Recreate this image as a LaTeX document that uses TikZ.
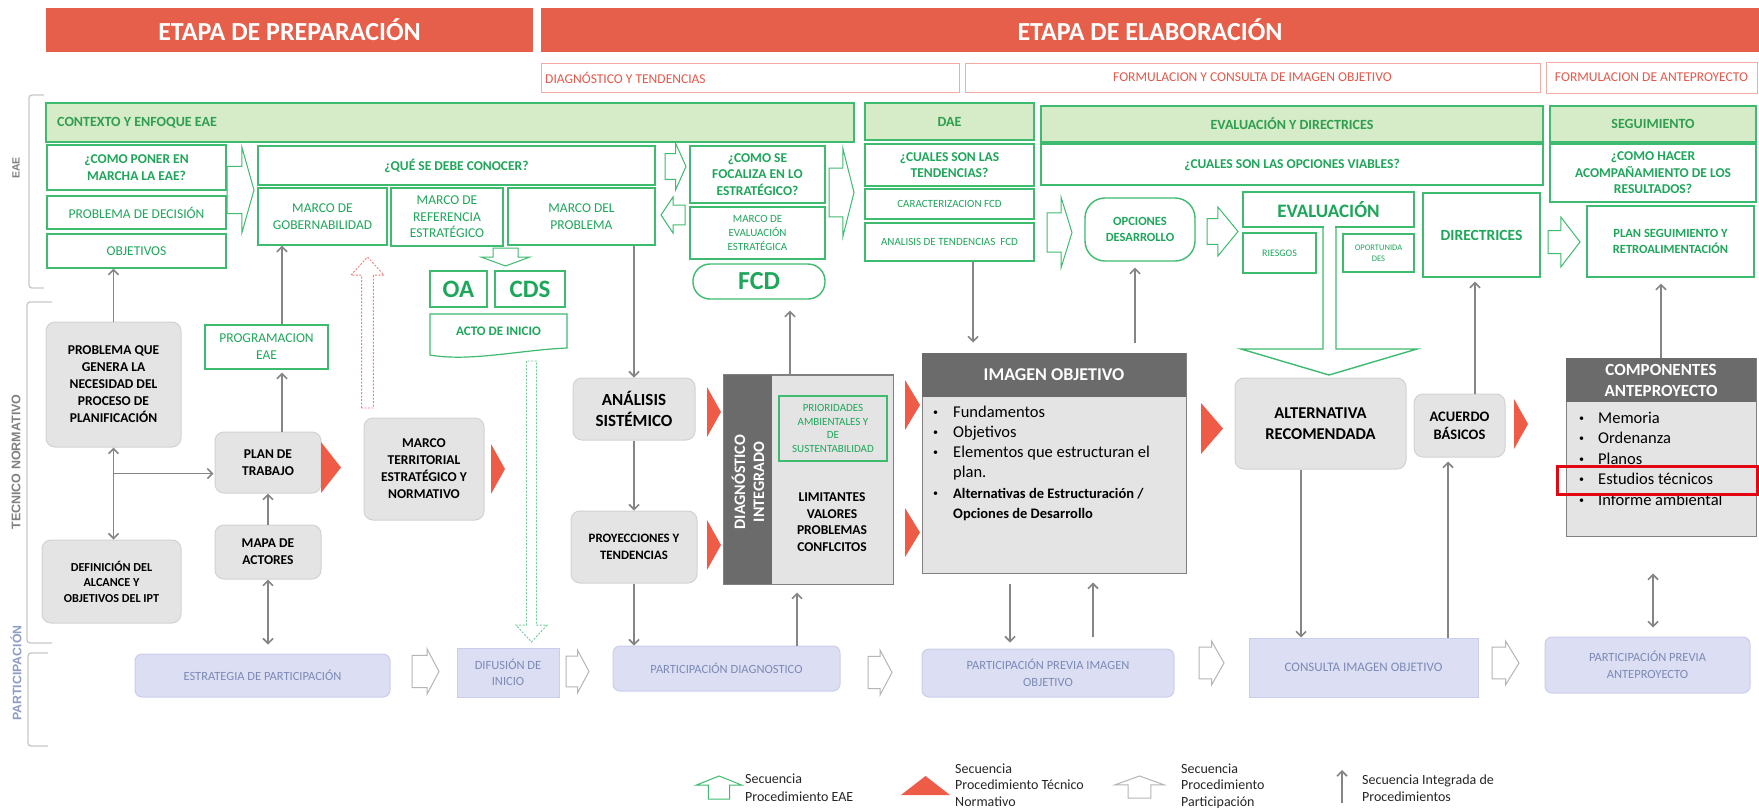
\documentclass[tikz,border=0pt]{standalone}
\usepackage{fontspec}
\setmainfont{Carlito}
\newfontfamily\sidefont{Liberation Sans}
\usetikzlibrary{arrows.meta}
\definecolor{hdrred}{HTML}{E65F4B}
\definecolor{subborder}{HTML}{F2ABA3}
\definecolor{subtext}{HTML}{E5584A}
\definecolor{egreen}{HTML}{1EA65A}
\definecolor{eborder}{HTML}{3DBB6E}
\definecolor{bandfill}{HTML}{D6EBC8}
\definecolor{bandtext}{HTML}{2E9E4F}
\definecolor{grayfill}{HTML}{E4E4E4}
\definecolor{grayborder}{HTML}{D2D2D2}
\definecolor{darkhdr}{HTML}{6B6B6B}
\definecolor{boxline}{HTML}{808080}
\definecolor{conngray}{HTML}{858585}
\definecolor{trired}{HTML}{EE5B47}
\definecolor{partfill}{HTML}{DCDEF3}
\definecolor{partborder}{HTML}{CBCEEA}
\definecolor{parttext}{HTML}{7B8AB5}
\definecolor{sidegray}{HTML}{808080}
\definecolor{sideblue}{HTML}{8E9DC6}
\definecolor{pgrayline}{HTML}{B5B5B5}
\definecolor{hlred}{HTML}{E30613}
\definecolor{dashgreen}{HTML}{6FCB94}
\definecolor{dashred}{HTML}{F08080}
\definecolor{legtext}{HTML}{262626}
\definecolor{brkgray}{HTML}{C8C8C8}

\newcommand\mybox[7]{\node[#6, minimum width={#4-#2}, minimum height={#5-#3}] (#1) at ({(#2+#4)/2},{(#3+#5)/2}) {#7};}
\newcommand\hArrR[7][]{%
 \pgfmathsetmacro\hwA{#2+#7*(#4-#2)}\pgfmathsetmacro\hwM{(#3+#5)/2}\pgfmathsetmacro\hwS{#6*(#5-#3)/2}%
 \draw[#1] (#2,\hwM-\hwS) -- (\hwA,\hwM-\hwS) -- (\hwA,#3) -- (#4,\hwM) -- (\hwA,#5) -- (\hwA,\hwM+\hwS) -- (#2,\hwM+\hwS) -- cycle;}
\newcommand\hArrL[7][]{%
 \pgfmathsetmacro\hwA{#4-#7*(#4-#2)}\pgfmathsetmacro\hwM{(#3+#5)/2}\pgfmathsetmacro\hwS{#6*(#5-#3)/2}%
 \draw[#1] (#4,\hwM-\hwS) -- (\hwA,\hwM-\hwS) -- (\hwA,#3) -- (#2,\hwM) -- (\hwA,#5) -- (\hwA,\hwM+\hwS) -- (#4,\hwM+\hwS) -- cycle;}
\newcommand\hArrD[7][]{%
 \pgfmathsetmacro\hwA{#3+#7*(#5-#3)}\pgfmathsetmacro\hwM{(#2+#4)/2}\pgfmathsetmacro\hwS{#6*(#4-#2)/2}%
 \draw[#1] (\hwM-\hwS,#3) -- (\hwM-\hwS,\hwA) -- (#2,\hwA) -- (\hwM,#5) -- (#4,\hwA) -- (\hwM+\hwS,\hwA) -- (\hwM+\hwS,#3) -- cycle;}
\newcommand\hArrU[7][]{%
 \pgfmathsetmacro\hwA{#5-#7*(#5-#3)}\pgfmathsetmacro\hwM{(#2+#4)/2}\pgfmathsetmacro\hwS{#6*(#4-#2)/2}%
 \draw[#1] (\hwM-\hwS,#5) -- (\hwM-\hwS,\hwA) -- (#2,\hwA) -- (\hwM,#3) -- (#4,\hwA) -- (\hwM+\hwS,\hwA) -- (\hwM+\hwS,#5) -- cycle;}
\newcommand\redTri[4]{\fill[trired] (#1,#2) -- (#3,{(#2+#4)/2}) -- (#1,#4) -- cycle;}
\newcommand\smbul{\raisebox{0.12em}{\fontsize{10}{10}\selectfont\textbullet}}

\tikzset{
 fb/.style n args={2}{font=\fontsize{#1}{#2}\selectfont\bfseries},
 fr/.style n args={2}{font=\fontsize{#1}{#2}\selectfont},
 hdr/.style={fill=hdrred, text=white, fb={26}{30}, inner sep=0pt},
 sub/.style={draw=subborder, line width=1pt, text=subtext, fr={13.5}{16}, inner sep=0pt},
 gbox/.style={draw=eborder, line width=1.4pt, fill=white, text=egreen, align=center, inner sep=0pt, fb={13.5}{16.5}},
 gboxn/.style={gbox, fr={13.5}{16.5}},
 band/.style={draw=eborder, line width=1.4pt, fill=bandfill, text=bandtext, align=center, inner sep=0pt, fb={14}{17}},
 graybox/.style={draw=grayborder, line width=1pt, fill=grayfill, rounded corners=9pt, text=black, align=center, inner sep=0pt, fb={13.5}{17}},
 partbox/.style={draw=partborder, line width=1pt, fill=partfill, rounded corners=7pt, text=parttext, align=center, inner sep=0pt, fr={12.5}{16.5}},
 darkhdr/.style={fill=darkhdr, text=white, align=center, inner sep=0pt},
 conn/.style={draw=conngray, line width=1.6pt, -{Straight Barb[length=5pt,width=10pt]}},
 conn2/.style={conn, {Straight Barb[length=5pt,width=10pt]}-{Straight Barb[length=5pt,width=10pt]}},
 harrow/.style={draw=eborder, line width=1pt, fill=white},
 pharrow/.style={draw=pgrayline, line width=1pt, fill=white},
 brk/.style={draw=brkgray, line width=1.3pt, rounded corners=3pt},
}

\begin{document}
\begin{tikzpicture}[x=1pt,y=-1pt]
\useasboundingbox (0,0) rectangle (1759,807);
\fill[white] (0,0) rectangle (1759,807);

% ---------- headers
\mybox{h1}{46}{8}{533}{52}{hdr}{ETAPA DE PREPARACIÓN}
\mybox{h2}{541}{8}{1759}{52}{hdr}{ETAPA DE ELABORACIÓN}
\mybox{s1}{541}{63}{959}{92}{sub}{}
\node[anchor=west, text=subtext, fr={13.5}{16}, inner sep=0pt] (s1t) at (545,77.5) {DIAGNÓSTICO Y TENDENCIAS};
\mybox{s2}{965}{63}{1540}{92}{sub}{FORMULACION Y CONSULTA DE IMAGEN OBJETIVO}
\mybox{s3}{1546}{62}{1757}{93}{sub}{FORMULACION DE ANTEPROYECTO}

% ---------- side brackets and labels
\draw[brk] (44,95) -- (29,95) -- (29,288) -- (44,288);
\draw[brk] (52,302) -- (27,302) -- (27,643) -- (52,643);
\draw[brk] (48,653) -- (28,653) -- (28,746) -- (48,746);
\node[rotate=90, text=sidegray, font=\sidefont\fontsize{10.5}{12}\selectfont\bfseries] (leae) at (16,168) {EAE};
\node[rotate=90, text=sidegray, font=\sidefont\fontsize{12.5}{15}\selectfont\bfseries] (ltn) at (16,462) {TECNICO NORMATIVO};
\node[rotate=90, text=sideblue, font=\sidefont\fontsize{12.3}{14}\selectfont\bfseries] (lpar) at (16,673) {PARTICIPACIÓN};

% ---------- EAE band, row 1
\mybox{ctx}{46}{103}{854}{142}{band}{}
\node[anchor=west, text=bandtext, fb={14}{17}, inner sep=0pt] (ctxt) at (57,122.5) {CONTEXTO Y ENFOQUE EAE};
\mybox{dae}{865}{103}{1034}{140}{band}{DAE}
\mybox{evd}{1041}{106}{1543}{142}{band}{EVALUACIÓN Y DIRECTRICES}
\mybox{seg}{1550}{106}{1756}{142}{band}{SEGUIMIENTO}

% ---------- EAE band, left part
\mybox{como}{47}{145}{226}{190}{gbox}{¿COMO PONER EN\\MARCHA LA EAE?}
\mybox{pdec}{47}{196}{226}{229}{gboxn}{PROBLEMA DE DECISIÓN}
\mybox{objetivos}{47}{234}{226}{268}{gboxn}{OBJETIVOS}
\hArrR[harrow]{227}{147}{254}{233}{0.55}{0.55}
\mybox{que}{258}{146}{655}{185}{gbox}{¿QUÉ SE DEBE CONOCER?}
\mybox{gob}{258}{188}{387}{245}{gboxn}{MARCO DE\\GOBERNABILIDAD}
\mybox{ref}{391}{188}{503}{246}{gboxn}{MARCO DE\\REFERENCIA\\ESTRATÉGICO}
\mybox{problema}{508}{188}{655}{245}{gboxn}{MARCO DEL\\PROBLEMA}
\hArrR[harrow]{665}{143}{686}{190}{0.55}{0.5}
\hArrL[harrow]{661}{197}{685}{233}{0.55}{0.5}
\mybox{foc}{690}{146}{825}{203}{gbox}{¿COMO SE\\FOCALIZA EN LO\\ESTRATÉGICO?}
\mybox{mee}{690}{207}{825}{259}{gboxn, fr={11}{14}}{MARCO DE\\EVALUACIÓN\\ESTRATÉGICA}
\mybox{fcd}{693}{264}{825}{299}{gbox, rounded corners=17pt, fb={26}{28}}{FCD}
\hArrR[harrow]{829}{148}{854}{237}{0.55}{0.55}
\hArrD[harrow]{481}{248}{530}{266}{0.51}{0.5}
\mybox{oa}{430}{271}{487}{307}{gbox, fb={25}{28}}{OA}
\mybox{cds}{495}{271}{565}{307}{gbox, fb={25}{28}}{CDS}
\node[text=egreen, fb={13}{16}, inner sep=0pt] (acto) at (498.5,331) {ACTO DE INICIO};
\draw[eborder, line width=1.2pt] (430,355) -- (430,314) -- (567,314) -- (567,348) .. controls (520,350) and (470,362) .. (430,355) -- cycle;
\hArrD[draw=dashgreen, line width=0.9pt, dash pattern=on 2pt off 1.5pt, fill=white]{516}{361}{547}{642}{0.32}{0.94}
\hArrU[draw=dashred, line width=0.9pt, dash pattern=on 2pt off 1.5pt, fill=white]{351}{257}{384}{408}{0.36}{0.88}

% ---------- EAE band, right part
\mybox{cten}{865}{144}{1034}{186}{gbox}{¿CUALES SON LAS\\TENDENCIAS?}
\mybox{carfcd}{865}{189}{1034}{219}{gboxn, fr={11}{13}}{CARACTERIZACION FCD}
\mybox{atend}{865}{223}{1034}{261}{gboxn, fr={11}{13}}{ANALISIS DE TENDENCIAS\ \ FCD}
\mybox{copc}{1041}{144}{1543}{185}{gbox}{¿CUALES SON LAS OPCIONES VIABLES?}
\mybox{chac}{1550}{144}{1756}{202}{gbox}{¿COMO HACER\\ACOMPAÑAMIENTO DE LOS\\RESULTADOS?}
\hArrR[harrow]{1047}{197}{1072}{268}{0.55}{0.56}
\mybox{opc}{1085}{198}{1195}{261}{gbox, rounded corners=20pt, fb={12.5}{16}}{OPCIONES\\DESARROLLO}
\hArrR[harrow]{1207}{207}{1238}{256}{0.53}{0.35}
\mybox{eval}{1243}{192}{1414}{227}{gbox, fb={19}{22}}{EVALUACIÓN}
\mybox{ries}{1243}{233}{1316}{273}{gboxn, fr={10}{12}}{RIESGOS}
\mybox{opor}{1343}{234}{1414}{272}{gboxn, fr={8.5}{11}}{OPORTUNIDA\\DES}
\mybox{dir}{1423}{193}{1540}{277}{gbox, fb={15.5}{18}}{DIRECTRICES}
\hArrR[harrow]{1548}{217}{1580}{267}{0.46}{0.4}
\mybox{pseg}{1587}{206}{1754}{277}{gbox, fb={12.5}{16.5}}{PLAN SEGUIMIENTO Y\\RETROALIMENTACIÓN}
% big arrow out of EVALUACION
\fill[white] (1324,225) rectangle (1335,229.5);
\draw[eborder, line width=1.4pt] (1323,227) -- (1323,349) -- (1241,349) -- (1329,375) -- (1417,349) -- (1336,349) -- (1336,227);

% ---------- tecnico normativo band
\mybox{prob}{46}{322}{181}{447}{graybox}{PROBLEMA QUE\\GENERA LA\\NECESIDAD DEL\\PROCESO DE\\PLANIFICACIÓN}
\mybox{defin}{42}{540}{181}{623}{graybox, fb={12.2}{15.5}}{DEFINICIÓN DEL\\ALCANCE Y\\OBJETIVOS DEL IPT}
\mybox{prog}{205}{325}{328}{369}{gboxn, fr={13.5}{17}}{PROGRAMACION\\EAE}
\mybox{plan}{215}{432}{321}{493}{graybox}{PLAN DE\\TRABAJO}
\mybox{mapa}{215}{525}{321}{579}{graybox}{MAPA DE\\ACTORES}
\redTri{321}{442}{341}{493}
\mybox{mter}{364}{418}{484}{520}{graybox}{MARCO\\TERRITORIAL\\ESTRATÉGICO Y\\NORMATIVO}
\redTri{491}{444}{505}{494}
\mybox{anal}{573}{378}{695}{440}{graybox, fb={17}{20.5}}{ANÁLISIS\\SISTÉMICO}
\mybox{proy}{571}{511}{697}{583}{graybox, fb={12.8}{16.5}}{PROYECCIONES Y\\TENDENCIAS}
\redTri{707}{387}{721}{437}
\redTri{707}{520}{721}{570}
% diagnostico integrado
\mybox{diag}{724}{375}{893}{584}{draw=boxline, line width=1pt, fill=grayfill}{}
\fill[darkhdr] (724,375) rectangle (772,584);
\draw[boxline, line width=1pt] (diag.north west) rectangle (diag.south east);
\node[rotate=90, text=white, fb={16}{19}, align=center, inner sep=0pt] (diagt) at (748,482) {DIAGNÓSTICO\\INTEGRADO};
\mybox{prio}{779}{396}{887}{461}{draw=eborder, line width=1.2pt, text=egreen, align=center, inner sep=0pt, fr={11}{13.7}}{PRIORIDADES\\AMBIENTALES Y\\DE\\SUSTENTABILIDAD}
\node[align=center, fb={13.5}{16.7}, inner sep=0pt] (lim) at (832,522) {LIMITANTES\\VALORES\\PROBLEMAS\\CONFLCITOS};
\redTri{905}{380}{920}{430}
\redTri{905}{508}{920}{557}
% imagen objetivo
\mybox{img}{922}{353}{1186}{573}{draw=boxline, line width=1pt, fill=grayfill}{}
\mybox{imgh}{922}{353}{1186}{397}{darkhdr, fb={18}{21}}{IMAGEN OBJETIVO}
\node[anchor=base west, inner sep=0pt, fr={16.5}{20.3}] (imgl) at (933,417) {\begin{tabular}[t]{@{}p{20pt}@{}l@{}}
\smbul & Fundamentos\\
\smbul & Objetivos\\
\smbul & Elementos que estructuran el\\
 & plan.\\
\smbul & \fontsize{14.5}{18}\selectfont\bfseries Alternativas de Estructuración /\\
 & \fontsize{14.5}{18}\selectfont\bfseries Opciones de Desarrollo
\end{tabular}};
\redTri{1201}{403}{1223}{454}
\mybox{alt}{1235}{378}{1406}{469}{graybox, fb={16.5}{20.5}}{ALTERNATIVA\\RECOMENDADA}
\mybox{acu}{1414}{394}{1505}{457}{graybox, fb={14.5}{18}}{ACUERDO\\BÁSICOS}
\redTri{1514}{399}{1528}{449}
% componentes
\mybox{comp}{1566}{358}{1756}{536}{draw=boxline, line width=1pt, fill=grayfill}{}
\mybox{comph}{1566}{358}{1756}{402}{darkhdr, fb={17}{21}}{COMPONENTES\\ANTEPROYECTO}
\node[anchor=base west, inner sep=0pt, fr={16.5}{20.6}] (compl) at (1579,423) {\begin{tabular}[t]{@{}p{19pt}@{}l@{}}
\smbul & Memoria\\
\smbul & Ordenanza\\
\smbul & Planos\\
\smbul & Estudios técnicos\\
\smbul & Informe ambiental
\end{tabular}};
\mybox{hl}{1557}{466}{1757}{494}{draw=hlred, line width=3pt}{}

% ---------- participacion band
\mybox{estr}{135}{654}{390}{697}{partbox}{ESTRATEGIA DE PARTICIPACIÓN}
\hArrR[pharrow]{412}{649}{439}{694}{0.72}{0.56}
\mybox{dif}{457}{648}{559}{697}{partbox, sharp corners}{DIFUSIÓN DE\\INICIO}
\hArrR[pharrow]{566}{650}{589}{693}{0.72}{0.5}
\mybox{pdiag}{613}{646}{840}{691}{partbox}{PARTICIPACIÓN DIAGNOSTICO}
\hArrR[pharrow]{868}{650}{892}{695}{0.72}{0.5}
\mybox{pimg}{922}{649}{1174}{697}{partbox}{PARTICIPACIÓN PREVIA IMAGEN\\OBJETIVO}
\hArrR[pharrow]{1199}{641}{1224}{685}{0.72}{0.5}
\mybox{cons}{1249}{638}{1478}{697}{partbox, sharp corners, fr={13}{16}}{CONSULTA IMAGEN OBJETIVO}
\hArrR[pharrow]{1492}{641}{1519}{685}{0.72}{0.5}
\mybox{pante}{1545}{637}{1750}{693}{partbox}{PARTICIPACIÓN PREVIA\\ANTEPROYECTO}

% ---------- connectors
\draw[conn] (prob.north) -- (prob.north |- objetivos.south);
\draw[conn2] (prob.south) -- (prob.south |- defin.north);
\coordinate (plw) at ([yshift=-11pt]plan.west);
\draw[conn, shorten >=1pt] (prob.south |- plw) -- (plw);
\draw[conn] (mapa.north) -- (plan.south);
\coordinate (pn) at ([xshift=14pt]plan.north);
\draw[conn, shorten >=3pt] (pn) -- (pn |- prog.south);
\draw[conn] (pn |- prog.north) -- (pn |- gob.south);
\draw[conn2, shorten >=9pt] (mapa.south) -- (mapa.south |- estr.north);
\draw[conn] (anal.north |- problema.south) -- (anal.north);
\draw[conn] (anal.south) -- (proy.north);
\draw[conn] (proy.south) -- (proy.south |- pdiag.north);
\coordinate (d1) at ([xshift=-11.5pt]diag.south);
\draw[conn, shorten >=8pt] (d1 |- pdiag.north) -- (d1);
\coordinate (d2) at ([xshift=-18.5pt]diag.north);
\draw[conn, shorten >=11pt] (d2) -- (d2 |- fcd.south);
\coordinate (a1) at ([xshift=23.5pt]atend.south);
\draw[conn, shorten >=10pt] (a1) -- (a1 |- img.north);
\coordinate (o1) at ([xshift=-5pt]opc.south);
\draw[conn, shorten <=10pt, shorten >=6pt] (o1 |- img.north) -- (o1);
\coordinate (i1) at ([xshift=-44pt]img.south);
\draw[conn, shorten <=10pt, shorten >=6pt] (i1) -- (i1 |- pimg.north);
\coordinate (i2) at ([xshift=39pt]img.south);
\draw[conn, shorten <=12pt, shorten >=9pt] (i2 |- pimg.north) -- (i2);
\coordinate (al) at ([xshift=-19.5pt]alt.south);
\draw[conn] (al) -- (al |- cons.north);
\coordinate (ac) at ([xshift=-11.5pt]acu.south);
\draw[conn, shorten >=4pt] (ac |- cons.north) -- (ac);
\coordinate (ac2) at ([xshift=15.5pt]acu.north);
\draw[conn, shorten >=4pt] (ac2) -- (ac2 |- dir.south);
\draw[conn, shorten >=6pt] (comp.north) -- (comp.north |- pseg.south);
\coordinate (cp) at ([xshift=-8pt]comp.south);
\draw[conn2, shorten <=37pt, shorten >=9pt] (cp) -- (cp |- pante.north);

% ---------- legend
\hArrU[harrow]{696}{776}{742}{799}{0.46}{0.6}
\node[anchor=base west, inner sep=0pt, text=legtext, fr={14}{18.5}] (lg1) at (745,783) {\begin{tabular}[t]{@{}l@{}}Secuencia\\Procedimiento EAE\end{tabular}};
\fill[trired] (901,795) -- (950,795) -- (925.5,776) -- cycle;
\node[anchor=base west, inner sep=0pt, text=legtext, fr={14}{16.5}] (lg2) at (955,773) {\begin{tabular}[t]{@{}l@{}}Secuencia\\Procedimiento Técnico\\Normativo\end{tabular}};
\hArrU[pharrow]{1115}{776}{1164}{798}{0.46}{0.6}
\node[anchor=base west, inner sep=0pt, text=legtext, fr={14}{16.5}] (lg3) at (1181,773) {\begin{tabular}[t]{@{}l@{}}Secuencia\\Procedimiento\\Participación\end{tabular}};
\coordinate (lga) at (1342,803);
\coordinate (lgb) at (1342,770);
\draw[conn] (lga) -- (lgb);
\node[anchor=base west, inner sep=0pt, text=legtext, fr={14}{17}] (lg4) at (1362,784) {\begin{tabular}[t]{@{}l@{}}Secuencia Integrada de\\Procedimientos\end{tabular}};
\end{tikzpicture}
\end{document}
